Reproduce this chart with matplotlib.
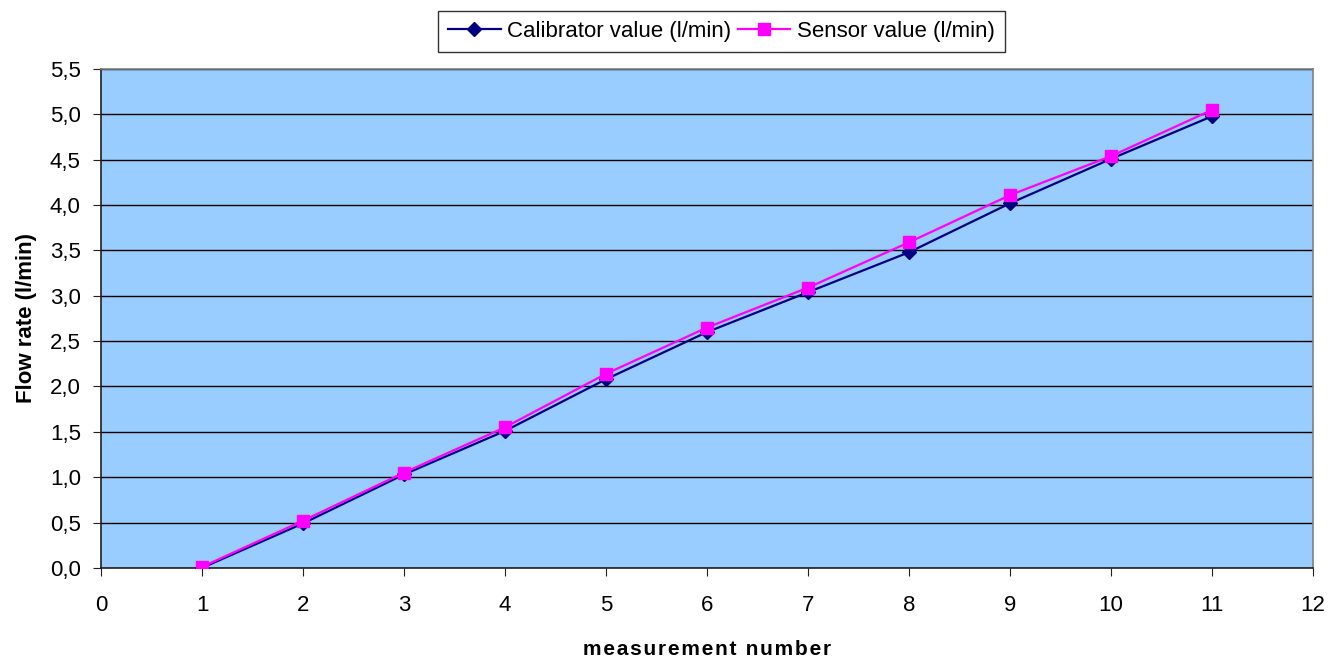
import matplotlib
matplotlib.use("Agg")
import matplotlib.pyplot as plt
import matplotlib.ticker as ticker

plt.rcParams['font.family'] = ['Liberation Sans', 'DejaVu Sans']

# measurement series
measurement = [1, 2, 3, 4, 5, 6, 7, 8, 9, 10, 11]
calibrator = [0.00, 0.49, 1.03, 1.51, 2.08, 2.60, 3.04, 3.48, 4.02, 4.51, 4.98]
sensor = [0.01, 0.52, 1.05, 1.55, 2.14, 2.65, 3.09, 3.59, 4.11, 4.54, 5.05]

fig = plt.figure(figsize=(13.29, 6.58), dpi=100)
ax = fig.add_axes([0.076, 0.137, 0.912, 0.758])
ax.set_facecolor('#99CCFF')

ax.plot(measurement, calibrator, color='#000080', marker='D', markersize=7,
        linewidth=1.6, label='Calibrator value (l/min)', zorder=3)
ax.plot(measurement, sensor, color='#FF00FF', marker='s', markersize=8.5,
        linewidth=1.6, label='Sensor value (l/min)', zorder=4)

ax.set_xlim(0, 12)
ax.set_ylim(0, 5.5)
ax.xaxis.set_major_locator(ticker.MultipleLocator(1))
ax.yaxis.set_major_locator(ticker.MultipleLocator(0.5))
ax.yaxis.set_major_formatter(ticker.FuncFormatter(lambda v, p: f"{v:.1f}".replace('.', ',')))
ax.grid(axis='y', color='black', linewidth=1.0)
ax.set_axisbelow(True)
for side in ('top', 'right'):
    ax.spines[side].set_color('#808080')
for side in ('left', 'bottom'):
    ax.spines[side].set_color('#202020')
for s in ax.spines.values():
    s.set_linewidth(1.2)
ax.tick_params(axis='both', direction='out', length=5.5, color='#202020',
               labelsize=16)
ax.tick_params(axis='x', pad=14)
ax.tick_params(axis='y', pad=9)

# spaced-out axis title
xtitle = '\u200a'.join('measurement number')
ax.set_xlabel(xtitle, fontsize=15, fontweight='bold', labelpad=17)
ax.set_ylabel('Flow rate (l/min)', fontsize=16, fontweight='bold', labelpad=9)

leg = ax.legend(loc='lower center', bbox_to_anchor=(0.512, 1.034), ncol=2,
                frameon=True, fancybox=False, fontsize=16, handlelength=2.35,
                borderpad=0.45, borderaxespad=0, columnspacing=0.3,
                handletextpad=0.3)
leg.get_frame().set_edgecolor('black')
leg.get_frame().set_linewidth(1.0)

fig.savefig('out.png', dpi=100)
